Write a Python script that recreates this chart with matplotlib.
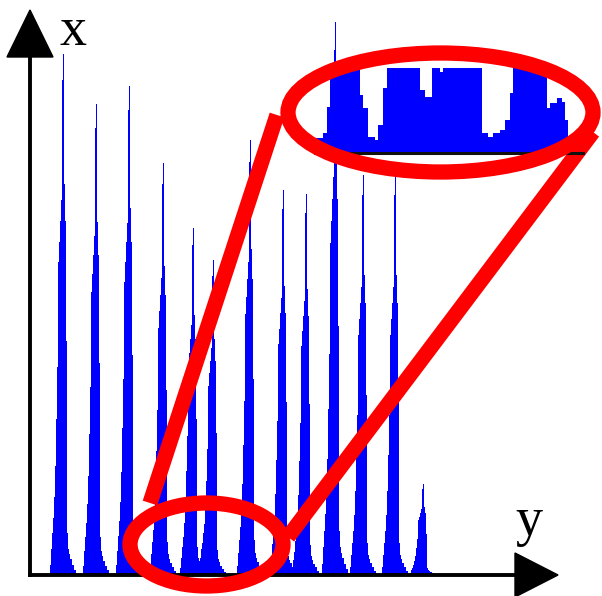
import numpy as np
import matplotlib.pyplot as plt
from matplotlib.patches import Ellipse, Polygon

# Peak positions (column) and peak heights of the grey-level histogram
peak_pos = [63, 96, 129, 163, 193, 213, 250, 283, 306, 335, 363, 395, 423]
peak_height = [521, 471, 489, 412, 347, 315, 435, 385, 381, 553, 400, 400, 91]

# Relative shape of one spike, offsets -13 .. +12 around its top
peak_offsets = list(range(-13, 13))
peak_shape = [0.02, 0.05, 0.08, 0.11, 0.15, 0.21, 0.30, 0.40, 0.60, 0.64,
              0.68, 0.72, 0.95, 1.0, 0.75, 0.68, 0.45, 0.08, 0.05, 0.04,
              0.03, 0.03, 0.02, 0.02, 0.01, 0.01]

# Magnified view of the low part of the histogram (clipped at the top)
zoom_edges = [315, 323.3, 326.7, 330, 360, 363.3, 368.3, 375, 378.3, 383.3,
              386.7, 420, 425, 431.7, 440, 443.3, 481.7, 488.3, 493.3, 500,
              505, 510, 513.3, 546.7, 550, 556.7, 561.7, 565, 568.3]
zoom_heights = [15, 20, 46, 85, 58, 45, 16, 13, 28, 65, 85, 63, 56, 85, 81,
                85, 20, 16, 20, 23, 33, 60, 85, 45, 50, 55, 51, 33]

# build the histogram bins
bins = np.arange(35, 445)
counts = np.zeros(len(bins))
for pos, h in zip(peak_pos, peak_height):
    for off, f in zip(peak_offsets, peak_shape):
        counts[bins == pos + off] += h * f

fig = plt.figure(figsize=(6.02, 5.96), dpi=100)
ax = fig.add_axes([0, 0, 1, 1])
ax.set_xlim(0, 602)
ax.set_ylim(-21, 575)
ax.axis('off')

blue = '#0000ff'
red = '#ff0000'
lw_red = 11

ax.stairs(counts, np.append(bins - 0.5, bins[-1] + 0.5), fill=True,
          color=blue, linewidth=0.3)

# axes with arrow heads
ax.plot([30, 30], [-2, 520], color='black', lw=2.8, solid_capstyle='butt')
ax.add_patch(Polygon([(7, 518), (53, 518), (30, 565)], closed=True, color='black'))
ax.plot([28, 518], [0, 0], color='black', lw=2.8, solid_capstyle='butt')
ax.add_patch(Polygon([(515, 22), (515, -22), (558, 0)], closed=True, color='black'))
ax.text(73, 530, 'x', fontsize=39, family='Liberation Serif', ha='center', va='baseline')
ax.text(529, 40, 'y', fontsize=39, family='Liberation Serif', ha='center', va='baseline')

# connecting lines
ax.plot([150, 277], [72, 460], color=red, lw=lw_red, solid_capstyle='butt', zorder=5)
ax.plot([288, 593], [38, 443], color=red, lw=lw_red, solid_capstyle='butt', zorder=5)

# magnified inset
inset_base = 422
inset = Ellipse((440.5, 462.5), 305, 119, facecolor='white', edgecolor='none', zorder=6)
ax.add_patch(inset)
zs = ax.stairs(inset_base + np.array(zoom_heights), zoom_edges, baseline=inset_base,
               fill=True, color=blue, linewidth=0, zorder=7)
zs.set_clip_path(inset)
ax.plot([315, 583], [inset_base, inset_base], color='#111111', lw=2.2, zorder=8)
ax.add_patch(Ellipse((440.5, 462.5), 305, 119, facecolor='none',
                     edgecolor=red, lw=lw_red, zorder=9))

# region being magnified
ax.add_patch(Ellipse((206.5, 30.5), 153, 83, facecolor='none',
                     edgecolor=red, lw=lw_red, zorder=9))

fig.savefig('out.png', dpi=100)
